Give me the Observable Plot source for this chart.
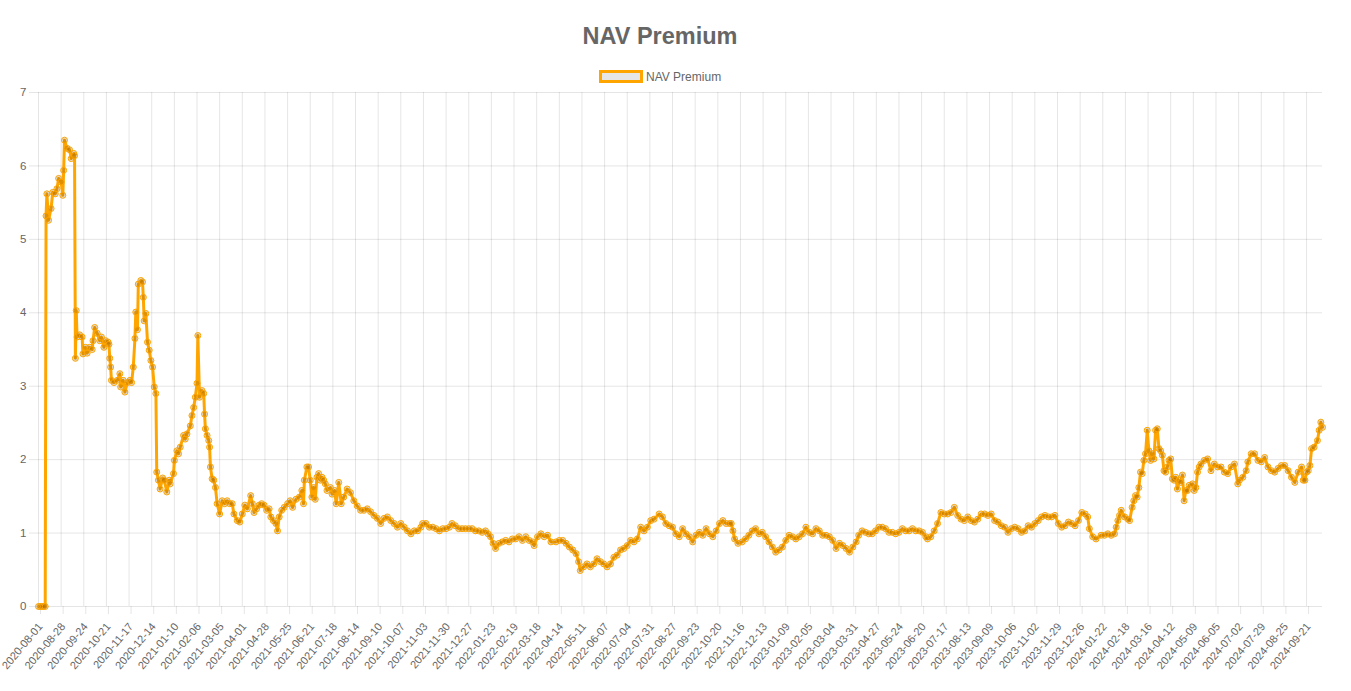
<!DOCTYPE html>
<html>
<head>
<meta charset="utf-8">
<script src="https://cdn.jsdelivr.net/npm/d3@7"></script>
<script src="https://cdn.jsdelivr.net/npm/@observablehq/plot@0.6"></script>
<style>
  html, body { margin: 0; padding: 0; background: #fff; }
  body { font-family: "Liberation Sans", Arial, Helvetica, sans-serif; color: #666; width: 1351px; }
  #header { position: relative; height: 84px; }
  #title { position: absolute; left: 0; width: 1320px; top: 25px; text-align: center; font-weight: bold; font-size: 23.5px; line-height: 23.5px; color: #666; }
  #legendBox { position: absolute; left: 599px; top: 69.5px; width: 44px; height: 13px; box-sizing: border-box; border: 3px solid orange; background: #e6e6e6; }
  #legendText { position: absolute; left: 646px; top: 70.5px; font-size: 12px; line-height: 12px; color: #666; white-space: nowrap; }
</style>
</head>
<body>
<div id="header">
  <div id="title">NAV Premium</div>
  <div id="legendBox"></div>
  <div id="legendText">NAV Premium</div>
</div>
<div id="chart"></div>
<script>
// Series start date; dayOffset = days since this date (daily series, all calendar days)
const startDate = "2020-08-01";
const dayOffset = [
  0,2,4,6,8,9,10,12,15,17,20,22,24,27,29,30,31,34,37,39,42,43,44,45,46,49,52,53,56,58,61,64,65,67,70,73,75,78,80,83,84,85,86,87,90,94,97,98,101,103,106,109,111,113,115,116,118,119,122,124,125,126,128,130,132,134,136,138,140,141,143,145,148,150,153,156,157,161,162,165,167,169,173,175,177,181,183,185,187,189,190,192,195,197,198,199,201,203,204,205,207,209,211,213,216,219,222,225,228,231,233,237,240,243,246,249,253,255,257,260,263,266,269,272,275,277,280,283,285,287,290,293,297,300,303,307,311,314,316,317,320,322,324,326,328,330,332,334,336,338,340,342,344,348,350,353,355,358,361,364,368,372,376,380,384,388,392,396,400,404,408,412,416,420,424,428,432,436,440,444,448,452,456,458,462,466,470,474,478,482,486,490,493,497,501,505,509,513,517,521,525,529,533,536,539,542,545,549,553,557,561,565,569,573,577,581,585,589,591,595,599,603,607,611,617,621,625,629,633,637,641,644,646,650,654,658,662,666,670,674,678,682,686,690,694,698,702,706,710,714,718,722,726,730,734,740,744,748,752,756,760,764,768,772,776,780,784,788,792,796,800,804,808,812,816,820,824,826,828,830,834,839,843,847,851,855,859,863,867,871,875,879,883,887,891,895,899,903,907,911,915,919,923,927,931,935,939,943,947,951,955,959,963,967,971,975,978,982,986,990,994,998,1002,1006,1010,1014,1018,1022,1026,1030,1034,1038,1042,1046,1050,1054,1058,1060,1064,1068,1072,1076,1080,1084,1088,1092,1096,1100,1104,1108,1112,1116,1120,1124,1128,1132,1136,1140,1144,1148,1152,1156,1160,1164,1168,1172,1176,1180,1184,1188,1192,1196,1200,1204,1208,1212,1216,1220,1224,1228,1232,1236,1240,1244,1248,1251,1253,1257,1261,1267,1271,1275,1279,1283,1285,1287,1289,1291,1295,1299,1301,1304,1306,1308,1310,1312,1314,1316,1318,1320,1322,1324,1326,1328,1330,1332,1334,1336,1338,1340,1342,1344,1346,1348,1350,1352,1354,1356,1358,1360,1362,1364,1366,1368,1370,1372,1376,1378,1380,1382,1384,1386,1390,1394,1398,1402,1406,1410,1414,1418,1422,1426,1430,1432,1436,1440,1442,1446,1450,1454,1458,1462,1466,1470,1474,1478,1482,1486,1490,1494,1498,1502,1506,1508,1510,1512,1514,1516,1518,1521,1525,1527,1529,1531
];
const premium = [
  0,0,0,0,0,5.32,5.62,5.26,5.42,5.64,5.62,5.69,5.83,5.78,5.60,5.94,6.35,6.24,6.22,6.10,6.17,6.14,3.38,4.03,3.67,3.70,3.67,3.44,3.53,3.45,3.53,3.50,3.62,3.80,3.72,3.62,3.67,3.53,3.62,3.60,3.57,3.38,3.26,3.08,3.05,3.08,3.17,2.99,3.08,2.92,3.05,3.08,3.05,3.26,3.65,4.01,3.77,4.39,4.44,4.42,4.21,3.89,3.99,3.60,3.49,3.35,3.26,2.99,2.90,1.83,1.72,1.60,1.75,1.72,1.56,1.72,1.67,1.81,1.99,2.12,2.08,2.17,2.33,2.28,2.35,2.46,2.60,2.71,2.85,3.04,3.69,2.85,2.94,2.90,2.62,2.42,2.33,2.26,2.17,1.90,1.74,1.72,1.62,1.40,1.26,1.44,1.40,1.44,1.40,1.40,1.26,1.17,1.15,1.26,1.38,1.33,1.51,1.40,1.28,1.33,1.38,1.40,1.38,1.31,1.33,1.22,1.17,1.13,1.03,1.22,1.31,1.35,1.40,1.44,1.35,1.46,1.49,1.58,1.40,1.72,1.90,1.90,1.72,1.49,1.62,1.46,1.76,1.81,1.72,1.76,1.72,1.67,1.58,1.62,1.53,1.58,1.40,1.69,1.40,1.49,1.60,1.55,1.44,1.37,1.31,1.31,1.33,1.29,1.24,1.20,1.13,1.20,1.22,1.17,1.13,1.08,1.13,1.08,1.03,0.99,1.03,1.03,1.08,1.13,1.13,1.08,1.08,1.06,1.03,1.06,1.06,1.08,1.13,1.10,1.06,1.06,1.06,1.06,1.06,1.03,1.03,1.01,1.03,0.99,0.95,0.86,0.79,0.86,0.88,0.90,0.88,0.92,0.92,0.95,0.90,0.95,0.90,0.88,0.83,0.95,0.99,0.95,0.97,0.88,0.88,0.90,0.90,0.86,0.81,0.77,0.72,0.61,0.49,0.54,0.58,0.54,0.58,0.65,0.61,0.58,0.54,0.58,0.67,0.70,0.77,0.79,0.83,0.90,0.88,0.92,1.08,1.03,1.08,1.17,1.19,1.26,1.22,1.13,1.10,1.08,0.99,0.95,1.06,0.99,0.95,0.88,0.97,1.01,0.97,1.06,0.99,0.95,1.03,1.13,1.17,1.13,1.13,1.13,1.03,0.92,0.86,0.88,0.92,0.97,1.03,1.06,0.99,1.01,0.95,0.88,0.81,0.74,0.77,0.81,0.90,0.97,0.95,0.92,0.95,0.99,1.08,1.01,0.99,1.06,1.03,0.97,0.97,0.95,0.90,0.79,0.86,0.83,0.79,0.74,0.81,0.88,0.97,1.03,1.01,0.99,0.99,1.03,1.08,1.08,1.06,1.01,1.01,0.99,1.01,1.06,1.03,1.03,1.06,1.03,1.03,1.01,0.95,0.92,0.95,1.03,1.13,1.28,1.26,1.26,1.28,1.35,1.24,1.19,1.17,1.22,1.17,1.15,1.19,1.26,1.26,1.24,1.26,1.17,1.15,1.10,1.08,1.01,1.06,1.08,1.06,1.01,1.03,1.10,1.08,1.13,1.17,1.22,1.24,1.22,1.22,1.24,1.13,1.08,1.10,1.15,1.13,1.10,1.17,1.28,1.26,1.22,1.06,0.95,0.92,0.97,0.97,0.99,0.97,0.99,1.08,1.17,1.24,1.31,1.22,1.19,1.17,1.35,1.44,1.51,1.49,1.62,1.83,1.81,1.99,2.08,2.40,2.12,1.99,2.08,2.01,2.40,2.42,2.15,2.12,2.06,1.85,1.83,1.90,1.99,2.01,1.74,1.72,1.76,1.60,1.72,1.69,1.79,1.44,1.58,1.58,1.65,1.67,1.58,1.62,1.83,1.90,1.94,1.99,2.01,1.85,1.94,1.90,1.90,1.83,1.81,1.90,1.94,1.67,1.72,1.76,1.85,1.97,2.08,2.08,1.99,1.97,2.03,1.90,1.85,1.83,1.88,1.92,1.92,1.85,1.76,1.69,1.83,1.90,1.72,1.72,1.83,1.85,1.92,2.15,2.17,2.26,2.40,2.51,2.44
];
const xTickLabels = [
  "2020-08-01","2020-08-28","2020-09-24","2020-10-21","2020-11-17","2020-12-14","2021-01-10","2021-02-06","2021-03-05","2021-04-01",
  "2021-04-28","2021-05-25","2021-06-21","2021-07-18","2021-08-14","2021-09-10","2021-10-07","2021-11-03","2021-11-30","2021-12-27",
  "2022-01-23","2022-02-19","2022-03-18","2022-04-14","2022-05-11","2022-06-07","2022-07-04","2022-07-31","2022-08-27","2022-09-23",
  "2022-10-20","2022-11-16","2022-12-13","2023-01-09","2023-02-05","2023-03-04","2023-03-31","2023-04-27","2023-05-24","2023-06-20",
  "2023-07-17","2023-08-13","2023-09-09","2023-10-06","2023-11-02","2023-11-29","2023-12-26","2024-01-22","2024-02-18","2024-03-16",
  "2024-04-12","2024-05-09","2024-06-05","2024-07-02","2024-07-29","2024-08-25","2024-09-21"
];
const yTicks = [0, 1, 2, 3, 4, 5, 6, 7];

const parseDay = d3.utcParse("%Y-%m-%d");
const start = parseDay(startDate);
const data = dayOffset.map((d, i) => ({date: d3.utcDay.offset(start, d), value: premium[i]}));
const tickDates = xTickLabels.map(parseDay);
const endDate = data[data.length - 1].date;

const chart = Plot.plot({
  width: 1351,
  height: 607,
  marginTop: 8,
  marginBottom: 85,
  marginLeft: 38,
  marginRight: 29,
  style: {fontFamily: "'Liberation Sans', Arial, Helvetica, sans-serif", fontSize: "11px", color: "#666", background: "#fff", overflow: "visible"},
  x: {type: "utc", domain: [start, endDate]},
  y: {domain: [0, 7]},
  marks: [
    Plot.gridY(yTicks, {stroke: "#000", strokeOpacity: 0.1, strokeWidth: 1}),
    Plot.gridX(tickDates, {stroke: "#000", strokeOpacity: 0.1, strokeWidth: 1}),
    Plot.axisY(yTicks, {tickSize: 9, tickPadding: 3, stroke: "#000", strokeOpacity: 0.1, fill: "#666", fontSize: 11.5, label: null, tickFormat: d3.format("d")}),
    Plot.axisX(tickDates, {tickSize: 8, tickPadding: 10, dx: 2, tickRotate: -50, stroke: "#000", strokeOpacity: 0.1, fill: "#666", fontSize: 11, label: null, tickFormat: d3.utcFormat("%Y-%m-%d")}),
    Plot.line(data, {x: "date", y: "value", stroke: "orange", strokeWidth: 3, strokeLinejoin: "round", curve: "linear"}),
    Plot.dot(data, {x: "date", y: "value", r: 3, fill: "rgba(90,50,0,0.18)", stroke: "orange", strokeWidth: 1})
  ]
});
document.getElementById("chart").appendChild(chart);
</script>
</body>
</html>
